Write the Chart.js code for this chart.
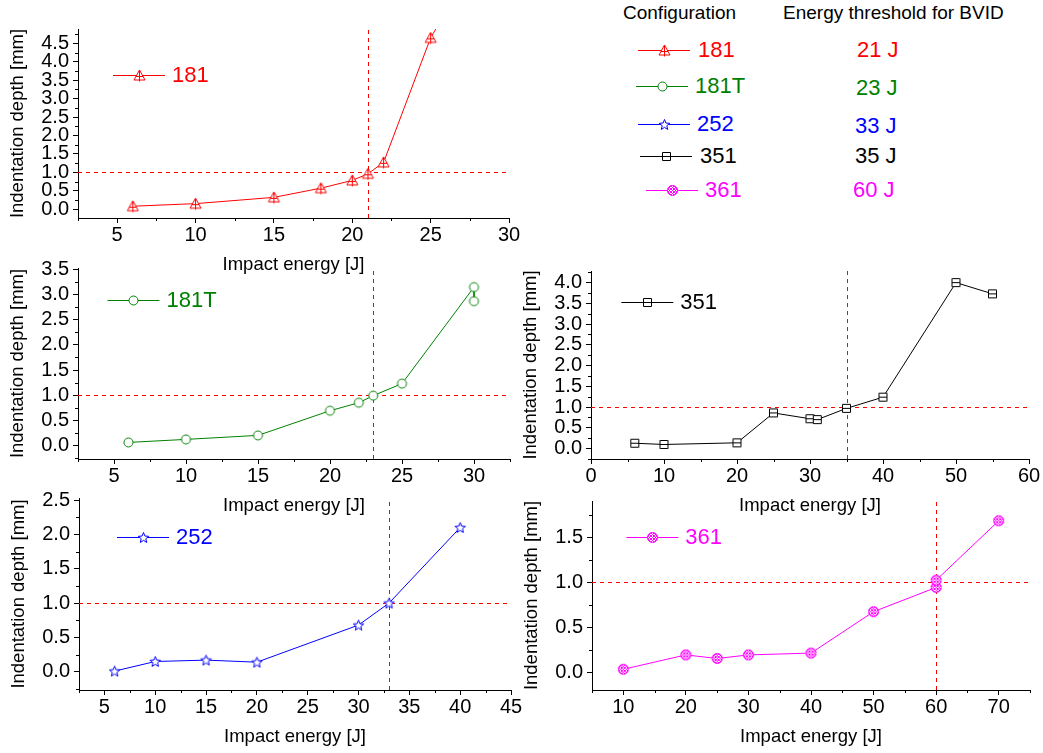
<!DOCTYPE html>
<html>
<head>
<meta charset="utf-8">
<script src="https://cdn.jsdelivr.net/npm/chart.js@4.4.0/dist/chart.umd.min.js"></script>
<style>
body { margin: 0; background: #fff; width: 1043px; height: 753px; position: relative; overflow: hidden;
	font-family: "Liberation Sans", Arial, sans-serif; }
canvas.plot { position: absolute; }
.txt { position: absolute; white-space: nowrap; line-height: 1; }
</style>
</head>
<body>
<canvas class="plot" id="c181"></canvas>
<canvas class="plot" id="c181T"></canvas>
<canvas class="plot" id="c351"></canvas>
<canvas class="plot" id="c252"></canvas>
<canvas class="plot" id="c361"></canvas>
<div id="table"></div>
<script>
// values
const energy181 = [6, 10, 15, 18, 20, 21, 22, 25, 30];
const depth181 = [0.08, 0.15, 0.32, 0.57, 0.78, 0.96, 1.27, 4.65, 8.25];

const energy181T = [6, 10, 15, 20, 22, 23, 25, 30, 30];
const depth181T = [0.06, 0.12, 0.2, 0.69, 0.85, 0.99, 1.23, 3.15, 2.87];

const energy351 = [6, 10, 20, 25, 30, 31, 35, 40, 50, 55];
const depth351 = [0.13, 0.1, 0.14, 0.86, 0.72, 0.7, 0.97, 1.24, 4.0, 3.73];

const energy252 = [6, 10, 15, 20, 30, 33, 40];
const depth252 = [0.01, 0.15, 0.17, 0.14, 0.68, 1.0, 2.1];

const energy361 = [10, 20, 25, 30, 40, 50, 60, 60, 70];
const depth361 = [0.03, 0.19, 0.15, 0.19, 0.21, 0.67, 0.94, 1.02, 1.68];

const configurations = ['181', '181T', '252', '351', '361'];
const thresholds = [21, 23, 33, 35, 60];
const thresholdDepth = 1.0;
const colors = ['#ff0000', '#008000', '#0000ff', '#000000', '#ff00ff'];
const markerKinds = ['triangle', 'circle', 'star', 'square', 'hatched'];

const xTicks181 = [5, 10, 15, 20, 25, 30];
const yTicks181 = [0, 0.5, 1, 1.5, 2, 2.5, 3, 3.5, 4, 4.5];
const xTicks181T = [5, 10, 15, 20, 25, 30];
const yTicks181T = [0, 0.5, 1, 1.5, 2, 2.5, 3, 3.5];
const xTicks351 = [0, 10, 20, 30, 40, 50, 60];
const yTicks351 = [0, 0.5, 1, 1.5, 2, 2.5, 3, 3.5, 4];
const xTicks252 = [5, 10, 15, 20, 25, 30, 35, 40, 45];
const yTicks252 = [0, 0.5, 1, 1.5, 2, 2.5];
const xTicks361 = [10, 20, 30, 40, 50, 60, 70];
const yTicks361 = [0, 0.5, 1, 1.5];

const FONT = '"Liberation Sans", Arial, sans-serif';

function makeMarker(kind, color) {
	const c = document.createElement('canvas');
	c.width = 15; c.height = 15;
	const g = c.getContext('2d');
	const m = 7.5;
	g.strokeStyle = color;
	g.fillStyle = '#fff';
	g.lineWidth = 1;
	g.beginPath();
	if (kind === 'triangle') {
		g.moveTo(m, 2); g.lineTo(m + 5.5, 12); g.lineTo(m - 5.5, 12); g.closePath();
		g.fill(); g.stroke();
		g.beginPath();
		g.moveTo(m, 2); g.lineTo(m, 13.5);
		g.moveTo(m - 3.5, 8.5); g.lineTo(m + 3.5, 8.5);
		g.stroke();
	} else if (kind === 'circle') {
		g.arc(m, m, 4.5, 0, Math.PI * 2);
		g.fill(); g.stroke();
	} else if (kind === 'star') {
		for (let i = 0; i < 10; i++) {
			const r = i % 2 ? 2.4 : 5.5;
			const a = -Math.PI / 2 + i * Math.PI / 5;
			g.lineTo(m + r * Math.cos(a), m + 0.5 + r * Math.sin(a));
		}
		g.closePath();
		g.fill(); g.stroke();
	} else if (kind === 'square') {
		g.rect(3.5, 3.5, 8, 8);
		g.fill(); g.stroke();
		g.beginPath(); g.moveTo(3.5, 7.5); g.lineTo(11.5, 7.5); g.stroke();
	} else {
		g.arc(m, m, 5, 0, Math.PI * 2);
		g.fill();
		g.save();
		g.clip();
		g.beginPath();
		for (let k = -9; k <= 9; k += 3) {
			g.moveTo(m + k - 8, m - 8); g.lineTo(m + k + 8, m + 8);
			g.moveTo(m + k + 8, m - 8); g.lineTo(m + k - 8, m + 8);
		}
		g.stroke();
		g.restore();
		g.beginPath();
		g.arc(m, m, 5, 0, Math.PI * 2);
		g.stroke();
	}
	return c;
}

const markers = markerKinds.map((k, i) => makeMarker(k, colors[i]));

// dashed threshold lines
const thresholdLines = {
	id: 'thresholdLines',
	beforeDatasetsDraw(chart, args, o) {
		const {ctx, chartArea: a, scales: {x, y}} = chart;
		ctx.save();
		ctx.strokeStyle = '#ff0000';
		ctx.lineWidth = 1;
		ctx.setLineDash([4, 4]);
		ctx.beginPath();
		const px = Math.round(x.getPixelForValue(o.energy)) + 0.5;
		const py = Math.round(y.getPixelForValue(o.depth)) + 0.5;
		ctx.moveTo(px, a.bottom); ctx.lineTo(px, a.top);
		ctx.moveTo(a.left, py); ctx.lineTo(a.right, py);
		ctx.stroke();
		ctx.restore();
	}
};

// short minor ticks between the major ones
const minorTicks = {
	id: 'minorTicks',
	afterDraw(chart, args, o) {
		const {ctx, chartArea: a, scales: {x, y}} = chart;
		ctx.save();
		ctx.strokeStyle = '#000';
		ctx.lineWidth = 1;
		ctx.beginPath();
		const isMajor = (v, list) => list.some(t => Math.abs(t - v) < 1e-6);
		for (let v = Math.ceil(x.min / o.x - 1e-6) * o.x; v <= x.max + 1e-6; v += o.x) {
			if (isMajor(v, o.xMajor)) continue;
			const p = Math.round(x.getPixelForValue(v)) + 0.5;
			ctx.moveTo(p, a.bottom); ctx.lineTo(p, a.bottom + 3);
		}
		for (let v = Math.ceil(y.min / o.y - 1e-6) * o.y; v <= y.max + 1e-6; v += o.y) {
			if (isMajor(v, o.yMajor)) continue;
			const p = Math.round(y.getPixelForValue(v)) + 0.5;
			ctx.moveTo(a.left, p); ctx.lineTo(a.left - 3, p);
		}
		ctx.stroke();
		ctx.restore();
	}
};

// legend inside the plot: line, marker and label
const inLegend = {
	id: 'inLegend',
	afterDraw(chart, args, o) {
		const {ctx, chartArea: a} = chart;
		const x0 = a.left + o.dx;
		const y0 = Math.round(a.top + o.dy) + 0.5;
		ctx.save();
		ctx.strokeStyle = o.color;
		ctx.lineWidth = 1;
		ctx.beginPath();
		ctx.moveTo(x0, y0); ctx.lineTo(x0 + 52, y0);
		ctx.stroke();
		ctx.drawImage(o.marker, Math.round(x0 + 26 - 7.5), Math.round(y0 - 7.5));
		ctx.fillStyle = o.color;
		ctx.font = '22px ' + FONT;
		ctx.textBaseline = 'middle';
		ctx.fillText(o.label, x0 + 59, y0);
		ctx.restore();
	}
};

function makeChart(id, p) {
	const padT = 15, padR = 22, yW = 80, xH = 60;
	const canvas = document.getElementById(id);
	const w = Math.round(p.plot.r - p.plot.l) + yW + padR;
	const h = Math.round(p.plot.b - p.plot.t) + padT + xH;
	canvas.width = w; canvas.height = h;
	canvas.style.left = Math.round(p.plot.l - yW) + 'px';
	canvas.style.top = Math.round(p.plot.t - padT) + 'px';
	canvas.style.width = w + 'px';
	canvas.style.height = h + 'px';

	const i = p.index;
	const tickFont = {family: FONT, size: 20};
	const titleFont = {family: FONT, size: 18.5};

	return new Chart(canvas, {
		type: 'line',
		data: {
			datasets: [{
				data: p.energy.map((e, k) => ({x: e, y: p.depth[k]})),
				borderColor: colors[i],
				borderWidth: 1,
				pointStyle: markers[i],
				pointRadius: 6,
				tension: 0,
				fill: false,
				clip: p.clip
			}]
		},
		options: {
			responsive: false,
			animation: false,
			events: [],
			layout: {padding: {top: padT, right: padR, left: 0, bottom: 0}},
			plugins: {
				legend: {display: false},
				tooltip: {enabled: false},
				thresholdLines: {energy: thresholds[i], depth: thresholdDepth},
				minorTicks: {x: p.xMinor, y: p.yMinor, xMajor: p.xTicks, yMajor: p.yTicks},
				inLegend: {dx: p.legend.dx, dy: p.legend.dy, color: colors[i], marker: markers[i], label: configurations[i]}
			},
			scales: {
				x: {
					type: 'linear',
					min: p.xMin, max: p.xMax,
					afterBuildTicks: s => { s.ticks = p.xTicks.map(v => ({value: v})); },
					afterFit: s => { s.height = xH; },
					grid: {drawOnChartArea: false, drawTicks: true, tickLength: 5, color: '#000'},
					border: {display: true, color: '#000', width: 1},
					ticks: {color: '#000', font: tickFont, padding: 0, maxRotation: 0, autoSkip: false,
						callback: v => String(v)},
					title: {display: true, text: 'Impact energy [J]', color: '#000', font: titleFont,
						padding: {top: 0, bottom: 2}}
				},
				y: {
					type: 'linear',
					min: p.yMin, max: p.yMax,
					afterBuildTicks: s => { s.ticks = p.yTicks.map(v => ({value: v})); },
					afterFit: s => { s.width = yW; },
					grid: {drawOnChartArea: false, drawTicks: true, tickLength: 5, color: '#000'},
					border: {display: true, color: '#000', width: 1},
					ticks: {color: '#000', font: tickFont, padding: 4, autoSkip: false,
						callback: v => v.toFixed(1)},
					title: {display: true, text: 'Indentation depth [mm]', color: '#000', font: titleFont,
						padding: {top: 9, bottom: 0}}
				}
			}
		},
		plugins: [thresholdLines, minorTicks, inLegend]
	});
}

makeChart('c181', {
	index: 0, energy: energy181, depth: depth181, clip: 0,
	plot: {l: 78, t: 28, r: 509, b: 218},
	xMin: 2.5, xMax: 30, xTicks: xTicks181, xMinor: 2.5,
	yMin: -0.24, yMax: 4.89, yTicks: yTicks181, yMinor: 0.25,
	legend: {dx: 35, dy: 46}
});

makeChart('c181T', {
	index: 1, energy: energy181T, depth: depth181T,
	plot: {l: 77.5, t: 267, r: 509.3, b: 459.3},
	xMin: 2.5, xMax: 32.5, xTicks: xTicks181T, xMinor: 2.5,
	yMin: -0.27, yMax: 3.53, yTicks: yTicks181T, yMinor: 0.25,
	legend: {dx: 29.5, dy: 32}
});

makeChart('c351', {
	index: 3, energy: energy351, depth: depth351,
	plot: {l: 590.7, t: 270, r: 1028.3, b: 459.3},
	xMin: 0, xMax: 60, xTicks: xTicks351, xMinor: 5,
	yMin: -0.25, yMax: 4.28, yTicks: yTicks351, yMinor: 0.25,
	legend: {dx: 30.3, dy: 31}
});

makeChart('c252', {
	index: 2, energy: energy252, depth: depth252,
	plot: {l: 79, t: 496.7, r: 511, b: 690},
	xMin: 2.5, xMax: 45, xTicks: xTicks252, xMinor: 2.5,
	yMin: -0.265, yMax: 2.53, yTicks: yTicks252, yMinor: 0.25,
	legend: {dx: 38, dy: 39.3}
});

makeChart('c361', {
	index: 4, energy: energy361, depth: depth361,
	plot: {l: 591.7, t: 500, r: 1030, b: 690},
	xMin: 5, xMax: 75, xTicks: xTicks361, xMinor: 5,
	yMin: -0.2, yMax: 1.9, yTicks: yTicks361, yMinor: 0.25,
	legend: {dx: 34.3, dy: 36}
});

// table of configurations and thresholds (top right)
const table = document.getElementById('table');
function addText(text, left, cy, size, color) {
	const d = document.createElement('div');
	d.className = 'txt';
	d.textContent = text;
	d.style.left = left + 'px';
	d.style.top = (cy - size / 2) + 'px';
	d.style.fontSize = size + 'px';
	d.style.color = color;
	table.appendChild(d);
}
addText('Configuration', 623, 12, 19, '#000');
addText('Energy threshold for BVID', 783, 12, 19, '#000');

const rowY = [50, 86, 124, 156, 190];
const rowSymX = [638, 636, 638, 640, 646];
const rowLabelX = [698, 695, 697, 700, 705];
const rowValueX = [857, 856, 855, 855, 853];
const rowValueY = [50, 88, 126, 156, 190];
configurations.forEach((name, i) => {
	const c = document.createElement('canvas');
	c.width = 54; c.height = 16;
	c.style.position = 'absolute';
	c.style.left = rowSymX[i] + 'px';
	c.style.top = (rowY[i] - 8) + 'px';
	const g = c.getContext('2d');
	g.strokeStyle = colors[i];
	g.lineWidth = 1;
	g.beginPath(); g.moveTo(0, 8.5); g.lineTo(52, 8.5); g.stroke();
	g.drawImage(markers[i], 26 - 7, 1);
	table.appendChild(c);
	addText(name, rowLabelX[i], rowY[i], 22, colors[i]);
	addText(thresholds[i] + ' J', rowValueX[i], rowValueY[i], 22, colors[i]);
});
</script>
</body>
</html>
